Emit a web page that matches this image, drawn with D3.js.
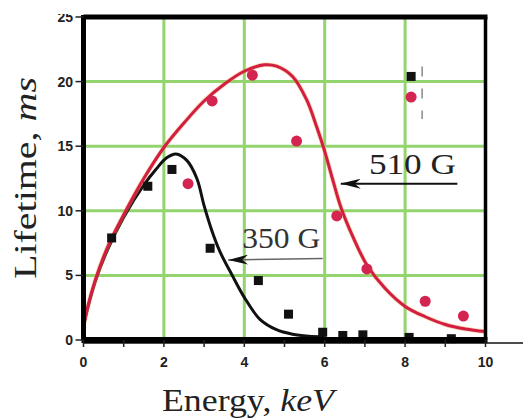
<!DOCTYPE html>
<html><head><meta charset="utf-8">
<script src="https://cdn.jsdelivr.net/npm/d3@7"></script>
<style>html,body{margin:0;padding:0;background:#fff;overflow:hidden}</style>
</head><body>
<svg id="c" width="523" height="420"></svg>
<script>
// ---- data ----
const xTicks = [0, 2, 4, 6, 8, 10];
const yTicks = [0, 5, 10, 15, 20, 25];
const gridX = [2, 4, 6, 8];
const gridY = [5, 10, 15, 20];

const energy350 = [0.7, 1.6, 2.2, 3.15, 4.35, 5.1, 5.95, 6.45, 6.95, 8.1, 9.15];
const life350   = [7.9, 11.9, 13.2, 7.1, 4.6, 2.0, 0.6, 0.35, 0.4, 0.2, 0.1];
const energy510 = [2.6, 3.2, 4.2, 5.3, 6.3, 7.05, 8.5, 9.45];
const life510   = [12.1, 18.5, 20.5, 15.4, 9.6, 5.5, 3.0, 1.85];

const fitX510 = [0, 0.1, 0.3, 0.6, 1.0, 1.5, 2.0, 2.5, 3.0, 3.5, 4.0, 4.5, 4.8, 5.2, 5.55, 5.8, 6.0, 6.2, 6.4, 6.7, 7.05, 7.5, 8.0, 8.5, 9.0, 9.5, 10.0];
const fitY510 = [1.0, 2.5, 4.7, 7.2, 9.7, 12.5, 14.9, 16.8, 18.5, 19.8, 20.8, 21.3, 21.2, 20.4, 18.6, 16.5, 14.6, 12.4, 10.3, 8.0, 5.8, 4.0, 2.6, 1.8, 1.2, 0.85, 0.65];
const fitX350 = [0, 0.1, 0.3, 0.6, 1.0, 1.5, 1.8, 2.07, 2.3, 2.57, 2.82, 3.0, 3.2, 3.4, 3.7, 4.0, 4.39, 4.8, 5.2, 5.6, 6.0];
const fitY350 = [1.0, 2.4, 4.6, 7.0, 9.5, 12.0, 13.2, 14.1, 14.4, 13.9, 12.5, 10.4, 8.4, 6.8, 5.0, 3.3, 1.6, 0.8, 0.45, 0.3, 0.25];

// legend-style marks at the upper right
const legendEnergy = [8.15, 8.15];
const legendLife   = [20.4, 18.8];
const labels = ["510 G", "350 G"];

// ---- drawing ----
const svg = d3.select("#c");
const x = d3.scaleLinear().domain([0, 10]).range([83.5, 485.5]);
const y = d3.scaleLinear().domain([0, 25]).range([340, 17]);

const green = "#93d46f";
svg.append("g").selectAll("line").data(gridX).join("line")
  .attr("x1", d => x(d)).attr("x2", d => x(d)).attr("y1", y(25)).attr("y2", y(0))
  .attr("stroke", green).attr("stroke-width", 3);
svg.append("g").selectAll("line").data(gridY).join("line")
  .attr("x1", x(0)).attr("x2", x(10)).attr("y1", d => y(d)).attr("y2", d => y(d))
  .attr("stroke", green).attr("stroke-width", 3);

// curves
const line = d3.line().x(d => x(d[0])).y(d => y(d[1])).curve(d3.curveCatmullRom.alpha(0.5));
svg.append("path").datum(fitX350.map((v, i) => [v, fitY350[i]]))
  .attr("d", line).attr("fill", "none").attr("stroke", "#111").attr("stroke-width", 3);
svg.append("path").datum(fitX510.map((v, i) => [v, fitY510[i]]))
  .attr("d", line).attr("fill", "none").attr("stroke", "#f0a040").attr("stroke-width", 4.5).attr("opacity", 0.45);
svg.append("path").datum(fitX510.map((v, i) => [v, fitY510[i]]))
  .attr("d", line).attr("fill", "none").attr("stroke", "#d21d45").attr("stroke-width", 3);

// points
const red = "#d42450";
svg.append("g").selectAll("circle").data(energy510.map((v, i) => [v, life510[i]])).join("circle")
  .attr("cx", d => x(d[0])).attr("cy", d => y(d[1])).attr("r", 5.5).attr("fill", red);
svg.append("g").selectAll("rect").data(energy350.map((v, i) => [v, life350[i]])).join("rect")
  .attr("x", d => x(d[0]) - 4.5).attr("y", d => y(d[1]) - 4.5).attr("width", 9).attr("height", 9).attr("fill", "#111");
svg.append("rect").attr("x", x(legendEnergy[0]) - 4.5).attr("y", y(legendLife[0]) - 4.5)
  .attr("width", 9).attr("height", 9).attr("fill", "#111");
svg.append("circle").attr("cx", x(legendEnergy[1])).attr("cy", y(legendLife[1])).attr("r", 5.5).attr("fill", red);
svg.append("line").attr("x1", x(legendEnergy[0]) + 11).attr("x2", x(legendEnergy[0]) + 11)
  .attr("y1", y(legendLife[0]) - 10).attr("y2", y(legendLife[1]) + 22)
  .attr("stroke", "#888").attr("stroke-width", 1.5).attr("stroke-dasharray", "10,12");

// frame
svg.append("line").attr("x1", x(0)).attr("x2", 523).attr("y1", y(0) + 3).attr("y2", y(0) + 3)
  .attr("stroke", "#111").attr("stroke-width", 1.5);
svg.append("line").attr("x1", x(0) - 2).attr("x2", x(10) + 2).attr("y1", y(0)).attr("y2", y(0))
  .attr("stroke", "#000").attr("stroke-width", 6);
svg.append("line").attr("x1", x(0)).attr("x2", x(0)).attr("y1", y(25) - 2).attr("y2", y(0))
  .attr("stroke", "#000").attr("stroke-width", 5);
svg.append("line").attr("x1", x(0)).attr("x2", x(10) + 2).attr("y1", y(25)).attr("y2", y(25))
  .attr("stroke", "#000").attr("stroke-width", 5);
svg.append("line").attr("x1", x(10)).attr("x2", x(10)).attr("y1", y(25)).attr("y2", y(0))
  .attr("stroke", "#000").attr("stroke-width", 3.5);

// ticks
svg.append("g").selectAll("line").data(d3.range(0, 11)).join("line")
  .attr("x1", d => x(d)).attr("x2", d => x(d)).attr("y1", y(0)).attr("y2", y(0) + 7)
  .attr("stroke", "#222").attr("stroke-width", 1.5);
svg.append("g").selectAll("line").data(yTicks).join("line")
  .attr("x1", x(0) - 8).attr("x2", x(0)).attr("y1", d => y(d)).attr("y2", d => y(d))
  .attr("stroke", "#222").attr("stroke-width", 1.5);

const defs = svg.append("defs");
defs.append("clipPath").attr("id", "topclip")
  .append("rect").attr("x", 0).attr("y", 14).attr("width", 523).attr("height", 420);
const tickFont = "'Liberation Sans', Arial, sans-serif";
svg.append("g").attr("clip-path", "url(#topclip)").selectAll("text").data(yTicks).join("text")
  .attr("x", 73).attr("y", d => y(d)).attr("dy", "0.36em").attr("text-anchor", "end")
  .attr("font-family", tickFont).attr("font-weight", "bold").attr("font-size", 14).attr("fill", "#222")
  .text(d => d);
svg.append("g").selectAll("text").data(xTicks).join("text")
  .attr("x", d => x(d)).attr("y", 362).attr("dy", "0.36em").attr("text-anchor", "middle")
  .attr("font-family", tickFont).attr("font-weight", "bold").attr("font-size", 14).attr("fill", "#222")
  .text(d => d);

// axis titles
const serif = "'Liberation Serif', 'Times New Roman', serif";
const xt = svg.append("text").attr("x", 162).attr("y", 411)
  .attr("font-family", serif).attr("font-size", 31).attr("fill", "#222")
  .attr("textLength", 172).attr("lengthAdjust", "spacingAndGlyphs");
xt.append("tspan").text("Energy, ");
xt.append("tspan").attr("font-style", "italic").text("keV");
const yt = svg.append("text").attr("transform", "translate(36,279) rotate(-90)")
  .attr("font-family", serif).attr("font-size", 31).attr("fill", "#222")
  .attr("textLength", 202).attr("lengthAdjust", "spacingAndGlyphs");
yt.append("tspan").text("Lifetime, ");
yt.append("tspan").attr("font-style", "italic").text("ms");

// annotations
defs.append("marker").attr("id", "arr").attr("viewBox", "0 0 20 10")
  .attr("refX", 20).attr("refY", 5).attr("markerWidth", 20).attr("markerHeight", 10)
  .attr("markerUnits", "userSpaceOnUse").attr("orient", "auto")
  .append("path").attr("d", "M20,5 L0,0 L6,5 L0,10 Z").attr("fill", "#111");

svg.append("text").attr("x", x(7.1)).attr("y", y(12.85))
  .attr("font-family", serif).attr("font-size", 29).attr("fill", "#222")
  .attr("textLength", 87).attr("lengthAdjust", "spacingAndGlyphs").text(labels[0]);
svg.append("line").attr("x1", x(9.3)).attr("x2", x(6.4)).attr("y1", y(12.1)).attr("y2", y(12.1))
  .attr("stroke", "#111").attr("stroke-width", 2).attr("marker-end", "url(#arr)");

svg.append("text").attr("x", x(3.95)).attr("y", y(7.1))
  .attr("font-family", serif).attr("font-size", 29).attr("fill", "#333")
  .attr("textLength", 78).attr("lengthAdjust", "spacingAndGlyphs").text(labels[1]);
svg.append("line").attr("x1", x(5.95)).attr("x2", x(3.6)).attr("y1", y(6.3)).attr("y2", y(6.2))
  .attr("stroke", "#666").attr("stroke-width", 1.5).attr("marker-end", "url(#arr)");
</script>
</body></html>
